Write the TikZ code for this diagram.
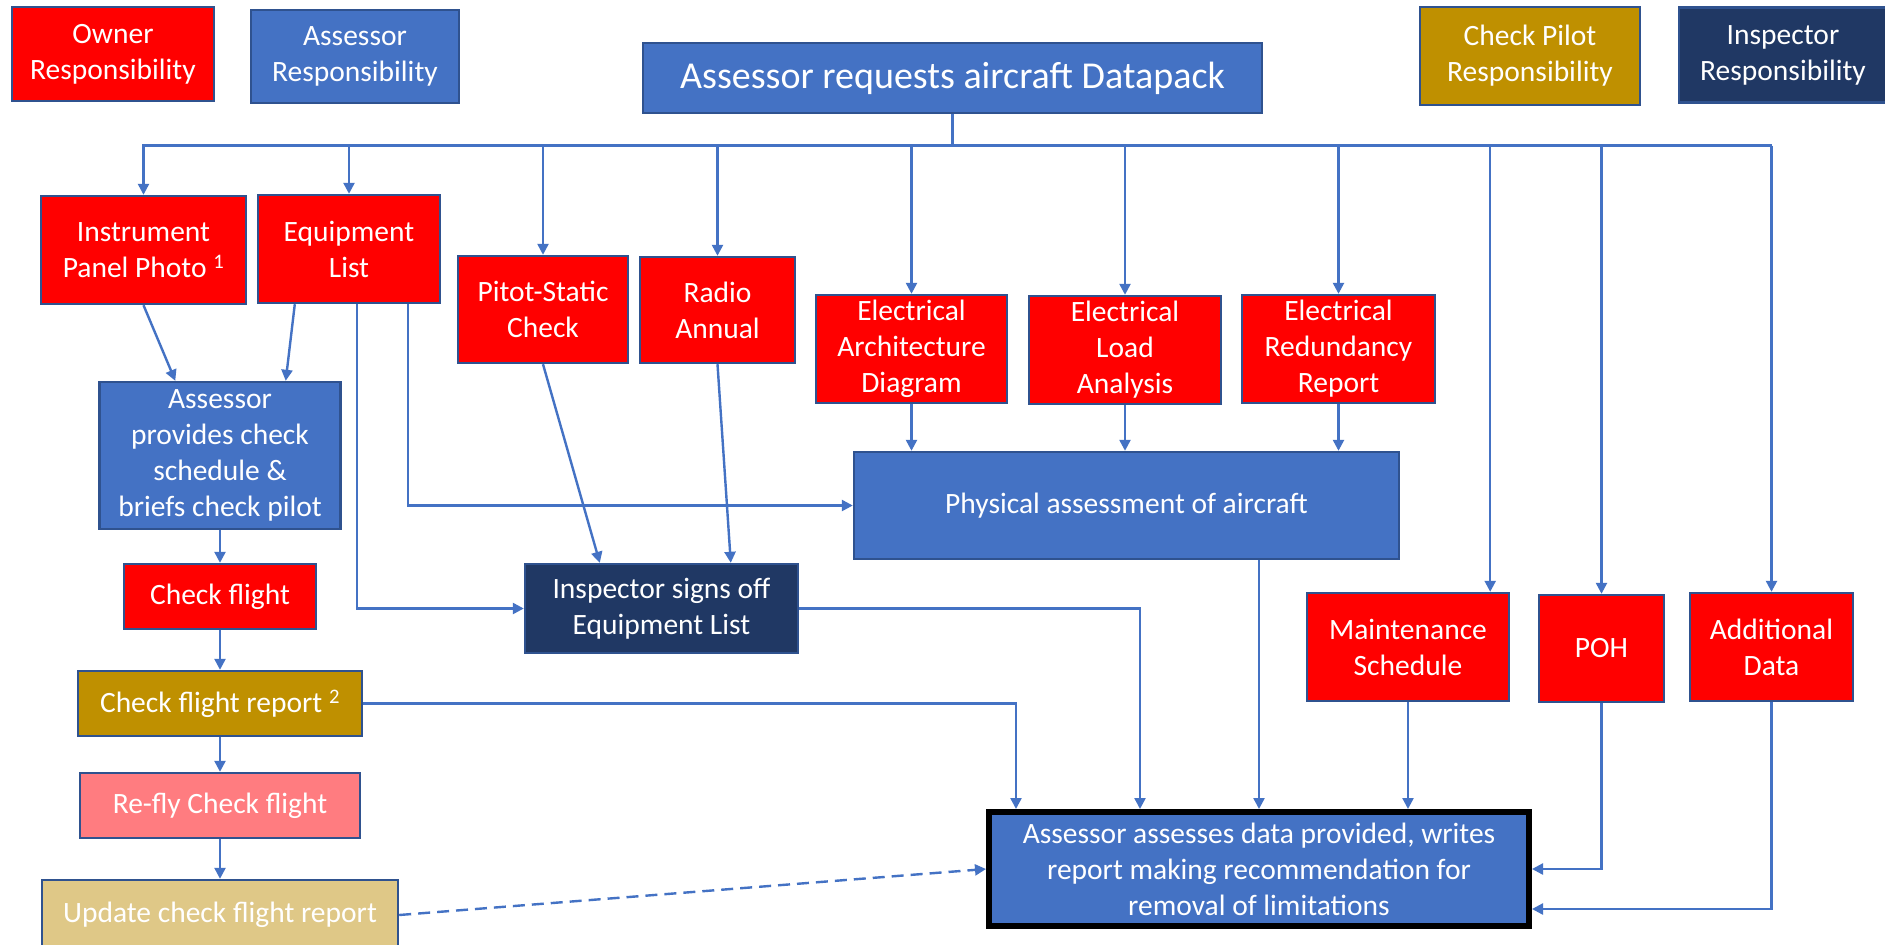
\documentclass[tikz,border=0pt]{standalone}
\usepackage{fontspec}
\setmainfont{Carlito}
\usetikzlibrary{arrows.meta, calc}

\definecolor{asblue}{HTML}{4472C4}
\definecolor{edgeblue}{HTML}{2F528F}
\definecolor{ownred}{HTML}{FF0000}
\definecolor{pilotgold}{HTML}{BF9000}
\definecolor{inspnavy}{HTML}{203864}
\definecolor{reflypink}{HTML}{FF7C80}
\definecolor{updtan}{HTML}{DFC887}

\tikzset{
  box/.style={draw=edgeblue, line width=2.4pt, text=white, align=center,
    inner sep=0pt, font=\fontsize{29.5}{36}\selectfont},
  wh/.style 2 args={minimum width=#1pt, minimum height=#2pt},
  owner/.style={box, fill=ownred},
  assessor/.style={box, fill=asblue},
  pilot/.style={box, fill=pilotgold},
  inspector/.style={box, fill=inspnavy},
  link/.style={draw=asblue, line width=2.4pt},
  arr/.style={link, -{Triangle[width=11pt,length=11pt]}}
}

\begin{document}
\begin{tikzpicture}[x=1pt, y=-1pt]
  \useasboundingbox[fill=white] (0,0) rectangle (1885,945);

  % key boxes
  \node[owner, wh={202}{94}] (ownkey) at (113,54) {Owner\\Responsibility};
  \node[assessor, wh={208}{93}] (askey) at (355,56.5) {Assessor\\Responsibility};
  \node[pilot, wh={220}{98}] (pilotkey) at (1530,56) {Check Pilot\\Responsibility};
  \node[inspector, wh={208}{95}] (inspkey) at (1783,55) {Inspector\\Responsibility};

  \node[assessor, wh={619}{70}, font=\fontsize{38}{46}\selectfont] (datapack) at (952.5,78) {Assessor requests aircraft Datapack};

  % documents asked for
  \node[owner, wh={205}{108}] (ipp) at (143.5,250) {Instrument\\Panel Photo \textsuperscript{1}};
  \node[owner, wh={182}{108}] (eql) at (349,249) {Equipment\\List};
  \node[owner, wh={170}{107}] (pitot) at (543,309.5) {Pitot-Static\\Check};
  \node[owner, wh={155}{106}] (radio) at (717.5,310) {Radio\\Annual};
  \node[owner, wh={191}{108}] (elarch) at (911.5,349) {Electrical\\Architecture\\Diagram};
  \node[owner, wh={192}{108}] (elload) at (1125,350) {Electrical\\Load\\Analysis};
  \node[owner, wh={193}{108}] (elred) at (1338.5,349) {Electrical\\Redundancy\\Report};
  \node[owner, wh={202}{108}] (maint) at (1408,647) {Maintenance\\Schedule};
  \node[owner, wh={125}{107}] (poh) at (1601.5,648.5) {POH};
  \node[owner, wh={163}{108}] (addl) at (1771.5,647) {Additional\\Data};

  % check flight column
  \node[assessor, wh={241}{147}] (brief) at (220,455.5) {Assessor\\provides check\\schedule \&\\briefs check pilot};
  \node[owner, wh={192}{65}] (cflight) at (220,596.5) {Check flight};
  \node[pilot, wh={284}{65}] (cfreport) at (220,703.5) {Check flight report \textsuperscript{2}};
  \node[box, fill=reflypink, wh={280}{65}] (refly) at (220,805.5) {Re-fly Check flight};
  \node[box, fill=updtan, wh={356}{70}] (update) at (220,915) {Update check flight report};

  \node[inspector, wh={273}{89}] (insp) at (661.5,608.5) {Inspector signs off\\Equipment List};
  \node[assessor, wh={545}{107}] (phys) at (1126.5,505.5) {Physical assessment of aircraft};
  \node[assessor, draw=black, line width=6pt, wh={540}{114}] (final) at (1259,869) {Assessor assesses data provided, writes\\report making recommendation for\\removal of limitations};

  % bus under the datapack request
  \coordinate (busL) at (142,145.5);
  \coordinate (busR) at (1771.5,145.5);
  \coordinate (mtop) at ($(maint.north east)+(-20,0)$);
  \draw[link] (busL) -- (busR);
  \draw[link] (datapack.south) -- (datapack.south |- busL);
  \foreach \n in {ipp,eql,pitot,radio,elarch,elload,elred,poh,addl}
    \draw[arr] (\n.north |- busL) -- (\n.north);
  \draw[arr] (mtop |- busL) -- (mtop);

  \draw[arr] (ipp.south) -- ($(brief.north west)+(77,0)$);
  \draw[arr] ($(eql.south west)+(38,0)$) -- ($(brief.north east)+(-56,0)$);
  \draw[arr] ($(eql.south west)+(100,0)$) |- (insp.west);
  \draw[arr] ($(eql.south west)+(151,0)$) |- (phys.west);
  \draw[arr] (pitot.south) -- ($(insp.north west)+(76,0)$);
  \draw[arr] (radio.south) -- ($(insp.north west)+(207,0)$);
  \foreach \n in {elarch,elload,elred}
    \draw[arr] (\n.south) -- (\n.south |- phys.north);

  \draw[arr] (brief.south) -- (cflight.north);
  \draw[arr] (cflight.south) -- (cfreport.north);
  \draw[arr] (cfreport.south) -- (refly.north);
  \draw[arr] (refly.south) -- (update.north);

  % into the final assessment
  \draw[arr] (insp.east) -| ($(final.north west)+(154,0)$);
  \draw[arr] (cfreport.east) -| ($(final.north west)+(30,0)$);
  \draw[arr] (final.north |- phys.south) -- (final.north);
  \draw[arr] (maint.south) -- (maint.south |- final.north);
  \draw[arr] (poh.south) |- (final.east);
  \draw[arr] (addl.south) |- ($(final.east)+(0,40)$);
  \draw[arr, dash pattern=on 12pt off 7pt] (update.east) -- (final.west);
\end{tikzpicture}
\end{document}
